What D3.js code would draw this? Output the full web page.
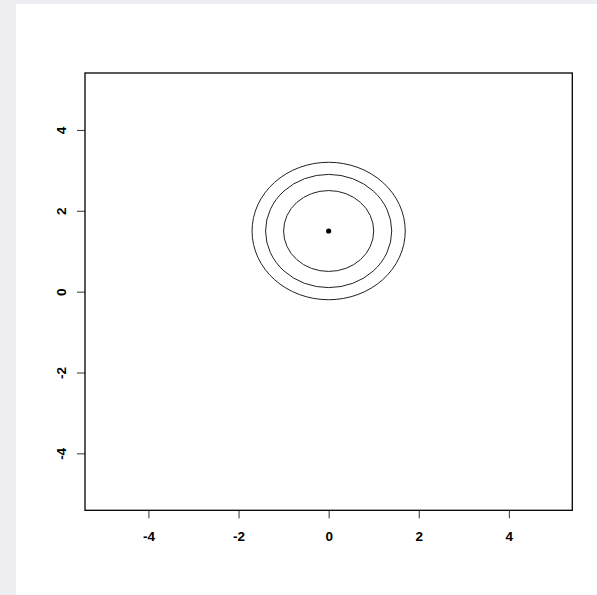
<!DOCTYPE html>
<html>
<head>
<meta charset="utf-8">
<script src="https://cdn.jsdelivr.net/npm/d3@7"></script>
<style>
  html, body { margin: 0; padding: 0; background: #ffffff; }
  svg { display: block; }
</style>
</head>
<body>
<svg id="chart" width="597" height="595"></svg>
<script>
// Axis ticks
const xTicks = [-4, -2, 0, 2, 4];
const yTicks = [-4, -2, 0, 2, 4];
// Axis limits (data range ±5.2 with 4% padding)
const xDomain = [-5.408, 5.408];
const yDomain = [-5.408, 5.408];
// Centre point and concentric contour radii
const centerX = [0];
const centerY = [1.5];
const radii = [1, 1.4, 1.7];

const svg = d3.select("#chart");
const W = 597, H = 595;

// page frame: light strips on the left and top edges
svg.append("rect").attr("x", 0).attr("y", 0).attr("width", W).attr("height", H).attr("fill", "#eeeef2");
svg.append("rect").attr("x", 16).attr("y", 4).attr("width", W - 16).attr("height", H - 4).attr("fill", "#ffffff");

const plot = { left: 85, right: 572.3, top: 73, bottom: 510.3 };

const x = d3.scaleLinear().domain(xDomain).range([plot.left, plot.right]);
const y = d3.scaleLinear().domain(yDomain).range([plot.bottom, plot.top]);

const font = "'Liberation Sans', Arial, Helvetica, sans-serif";
const fmt = d => d < 0 ? "-" + Math.abs(d) : String(d);

// x axis
const xAxis = d3.axisBottom(x).tickValues(xTicks).tickSize(8).tickPadding(0).tickFormat(fmt);
const gx = svg.append("g").attr("transform", `translate(0,${plot.bottom})`).call(xAxis);
gx.select(".domain").remove();
gx.selectAll("line").attr("stroke", "#333").attr("stroke-width", 1);
gx.selectAll("text").attr("font-family", font).attr("font-size", 13.5).attr("font-weight", "bold").attr("fill", "#000")
  .attr("y", 26).attr("dy", "0.35em");

// y axis (labels rotated, reading upward)
const yAxis = d3.axisLeft(y).tickValues(yTicks).tickSize(8).tickFormat(fmt);
const gy = svg.append("g").attr("transform", `translate(${plot.left},0)`).call(yAxis);
gy.select(".domain").remove();
gy.selectAll("line").attr("stroke", "#333").attr("stroke-width", 1);
gy.selectAll("text")
  .attr("font-family", font).attr("font-size", 13.5).attr("font-weight", "bold").attr("fill", "#000")
  .attr("x", 0).attr("y", 0)
  .attr("text-anchor", "middle")
  .attr("transform", "translate(-23.5,0) rotate(-90)")
  .attr("dy", "0.35em");

// plot box
svg.append("rect")
  .attr("x", plot.left).attr("y", plot.top)
  .attr("width", plot.right - plot.left).attr("height", plot.bottom - plot.top)
  .attr("fill", "none").attr("stroke", "#000").attr("stroke-width", 1.3);

// concentric contours around the centre
const kx = x(1) - x(0), ky = y(0) - y(1);
svg.append("g").selectAll("ellipse").data(radii).join("ellipse")
  .attr("cx", x(centerX[0])).attr("cy", y(centerY[0]))
  .attr("rx", r => r * kx).attr("ry", r => r * ky)
  .attr("fill", "none").attr("stroke", "#222").attr("stroke-width", 1);

// centre point
svg.append("g").selectAll("circle").data(centerX.map((d, i) => [d, centerY[i]])).join("circle")
  .attr("cx", d => x(d[0])).attr("cy", d => y(d[1])).attr("r", 2.6).attr("fill", "#000");
</script>
</body>
</html>
